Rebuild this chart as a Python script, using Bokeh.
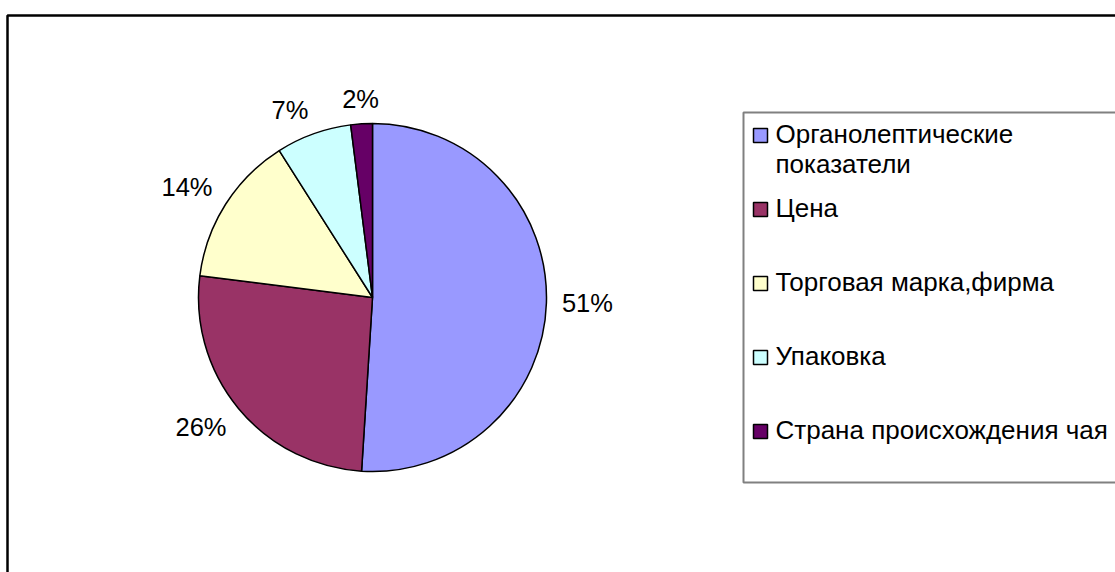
import math
import textwrap
from bokeh.plotting import figure
from bokeh.models import Range1d, ColumnDataSource
from bokeh.embed import file_html
from bokeh.resources import INLINE
from bokeh.core.properties import value

# ---- data ----
categories = ["Органолептические показатели", "Цена", "Торговая марка,фирма",
              "Упаковка", "Страна происхождения чая"]
shares = [51, 26, 14, 7, 2]
colors = ["#9999FF", "#993366", "#FFFFCC", "#CCFFFF", "#660066"]

FONT = value("Liberation Sans")
LABEL_FS = 25.5
LEGEND_FS = 26

W, H = 1115, 572
p = figure(width=W, height=H, x_range=Range1d(0, W), y_range=Range1d(0, H),
           output_backend="svg", toolbar_location=None,
           x_axis_type=None, y_axis_type=None, min_border=0)
p.grid.visible = False
p.outline_line_color = None
p.background_fill_color = "white"
p.border_fill_color = "white"


def sy(y):
    # screen y (from top of window) -> data y
    return H - y


# outer chart border
p.quad(left=[7], right=[1150], top=[sy(15)], bottom=[-20],
       fill_color=None, line_color="black", line_width=2.5)

# ---- pie ----
cx, cy, R = 372, sy(297), 174
total = float(sum(shares))
starts, ends, mids = [], [], []
cum = 0.0
for v in shares:
    a0 = math.pi / 2 - 2 * math.pi * cum / total
    cum += v
    a1 = math.pi / 2 - 2 * math.pi * cum / total
    starts.append(a0)
    ends.append(a1)
    mids.append((a0 + a1) / 2)

src = ColumnDataSource(dict(start=starts, end=ends, color=colors))
p.wedge(x=cx, y=cy, radius=R, start_angle="start", end_angle="end",
        direction="clock", fill_color="color", line_color="black",
        line_width=1.5, source=src)


def side(c):
    return 1 if c > 0.2 else (-1 if c < -0.2 else 0)


# data labels: the label box's nearest corner/edge sits just outside the slice
gap = 15.5
lx, ly, ltxt = [], [], []
for v, m in zip(shares, mids):
    ux, uy = math.cos(m), math.sin(m)
    t = f"{round(100 * v / total)}%"
    w = LABEL_FS * (0.556 * (len(t) - 1) + 0.889)
    h = LABEL_FS * 0.72
    px, py = cx + (R + gap) * ux, cy + (R + gap) * uy
    lx.append(px + side(ux) * w / 2)
    ly.append(py + side(uy) * h / 2)
    ltxt.append(t)
p.text(x=lx, y=ly, text=ltxt, text_align="center", text_baseline="middle",
       text_font=FONT, text_font_size=value(f"{LABEL_FS}px"), text_color="black")

# ---- legend ----
p.quad(left=[743], right=[1150], top=[sy(112)], bottom=[sy(482)],
       fill_color=None, line_color="#808080", line_width=2)

first_base, step, line_h = 142.5, 74, 30
sq_x, sq_y, tx, ty, tt = [], [], [], [], []
for i, name in enumerate(categories):
    base = first_base + step * i
    sq_x.append(760)
    sq_y.append(sy(base - 7.5))
    for j, line in enumerate(textwrap.wrap(name, width=24)):
        tx.append(775)
        ty.append(sy(base + j * line_h - 0.36 * LEGEND_FS))
        tt.append(line)
p.rect(x=sq_x, y=sq_y, width=14, height=14, fill_color=colors,
       line_color="black", line_width=1.5)
p.text(x=tx, y=ty, text=tt, text_align="left", text_baseline="middle",
       text_font=FONT, text_font_size=value(f"{LEGEND_FS}px"), text_color="black")

open("out.html", "w").write(file_html(p, INLINE))
